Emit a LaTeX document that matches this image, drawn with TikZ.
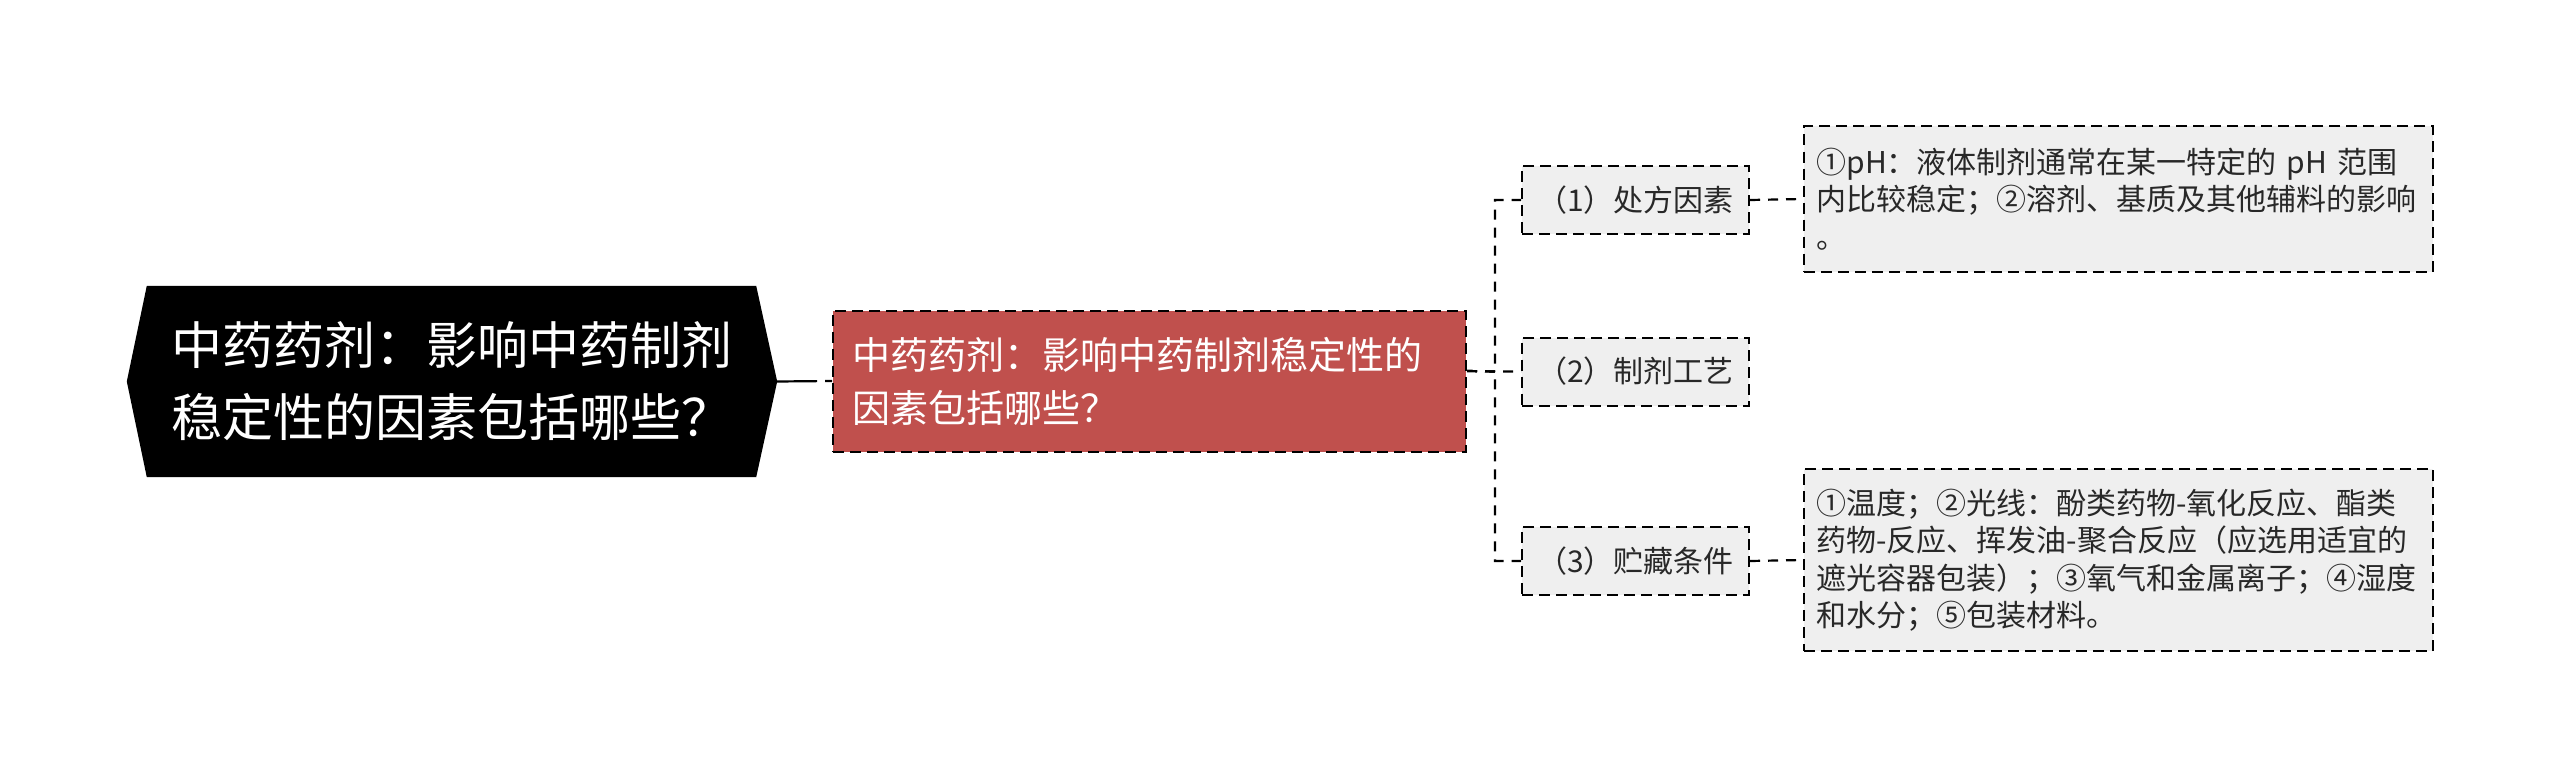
\documentclass[tikz,border=0pt]{standalone}
\usepackage{fontspec}
\newfontfamily\cjk{Noto Sans CJK SC}
\usetikzlibrary{backgrounds}
\definecolor{redfill}{RGB}{192,80,77}
\definecolor{grayfill}{RGB}{239,239,239}
\definecolor{txtgray}{RGB}{40,40,40}
\begin{document}
\begin{tikzpicture}[x=1pt,y=-1pt,
  boxline/.style={draw=black, line width=2pt, dash pattern=on 11pt off 6pt},
  conn/.style={draw=black, line width=2.2pt, dash pattern=on 10pt off 8pt},
  rootconn/.style={draw=black, line width=2.2pt, dash pattern=on 40pt off 8pt},
  rootbox/.style={minimum width=609pt, minimum height=191pt, inner sep=0pt, align=left,
    text=white, font=\cjk\fontsize{51pt}{72pt}\selectfont},
  redbox/.style={boxline, fill=redfill, text width=595pt, inner xsep=19pt, inner ysep=0pt,
    minimum height=141pt, align=left, text=white, font=\cjk\fontsize{38pt}{53pt}\selectfont},
  lvtwo/.style={boxline, fill=grayfill, minimum width=227pt, minimum height=68pt, inner sep=0pt,
    text=txtgray, font=\cjk\fontsize{30pt}{37.5pt}\selectfont},
  leaf/.style={boxline, fill=grayfill, text width=604pt, inner xsep=12.5pt, inner ysep=0pt,
    align=left, text=txtgray, font=\cjk\fontsize{30pt}{37.5pt}\selectfont}
]
\useasboundingbox (0,0) rectangle (2560,781);

\node[rootbox] (root) at (451.5,381.5) {中药药剂：影响中药制剂\\稳定性的因素包括哪些？};
\begin{scope}[on background layer]
  \fill[black] (root.north west) -- (root.north east) -- ([xshift=21pt]root.east)
    -- (root.south east) -- (root.south west) -- ([xshift=-20pt]root.west) -- cycle;
\end{scope}
\coordinate (roottip) at ([xshift=21pt]root.east);

\node[redbox] (red) at (1149.5,381) {中药药剂：影响中药制剂稳定性的\\因素包括哪些？};

\node[lvtwo] (c1) at (1635.5,200) {（1）处方因素};
\node[lvtwo] (c2) at (1635.5,371.5) {（2）制剂工艺};
\node[lvtwo] (c3) at (1635.5,561) {（3）贮藏条件};

\node[leaf, minimum height=145pt] (l1) at (2118.5,199) {①pH：液体制剂通常在某一特定的 pH 范围\\内比较稳定；②溶剂、基质及其他辅料的影响\\。};
\node[leaf, minimum height=182pt] (l3) at (2118.5,560) {①温度；②光线：酚类药物-氧化反应、酯类\\药物-反应、挥发油-聚合反应（应选用适宜的\\遮光容器包装）；③氧气和金属离子；④湿度\\和水分；⑤包装材料。};

\draw[rootconn] (roottip) -- (red.west);
\coordinate (redout) at ([yshift=10pt]red.east);
\coordinate (spine) at (1495,371.5);
\draw[conn] (redout) -- (spine) |- (c1.west);
\draw[conn] (redout) -- (spine) |- (c2.west);
\draw[conn] (redout) -- (spine) |- (c3.west);
\draw[conn] (c1.east) -- (l1.west);
\draw[conn] (c3.east) -- (l3.west);
\end{tikzpicture}
\end{document}
